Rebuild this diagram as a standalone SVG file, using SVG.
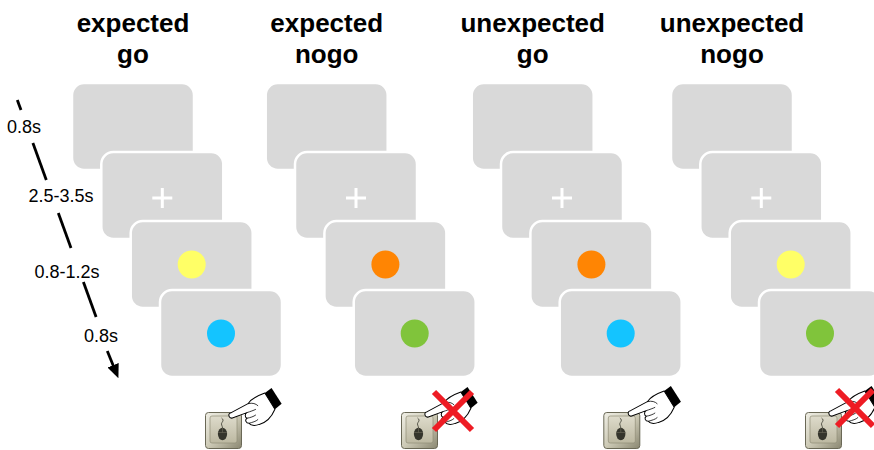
<svg xmlns="http://www.w3.org/2000/svg" xmlns:xlink="http://www.w3.org/1999/xlink" width="874" height="450" viewBox="0 0 874 450">
  <style>
    .title { font-family: "Liberation Sans", Arial, sans-serif; font-weight: bold; font-size: 26px; fill: #000; text-anchor: middle; }
    .time { font-family: "Liberation Sans", Arial, sans-serif; font-size: 18px; fill: #000; text-anchor: middle; }
    .scr { fill: #d9d9d9; stroke: #ffffff; stroke-width: 2.5; }
    .fix { stroke: #ffffff; stroke-width: 3; fill: none; }
    .yellow { fill: #ffff66; }
    .orange { fill: #ff8503; }
    .blue { fill: #14c4ff; }
    .green { fill: #80c43b; }
    .tl { stroke: #000; stroke-width: 2.8; fill: none; }
    .nox { stroke: #ee1c24; stroke-width: 6; fill: none; }
  </style>
  <defs>
    <marker id="arrow" markerUnits="userSpaceOnUse" markerWidth="14" markerHeight="12" viewBox="0 0 14 12" refX="1" refY="6" orient="auto">
      <path d="M0,0 L14,6 L0,12 Z" fill="#000"/>
    </marker>
    <linearGradient id="capOuter" x1="0" y1="0" x2="1" y2="1">
      <stop offset="0" stop-color="#f0efe6"/>
      <stop offset="0.5" stop-color="#cdcab6"/>
      <stop offset="1" stop-color="#8a8771"/>
    </linearGradient>
    <linearGradient id="capFace" x1="0" y1="0" x2="0" y2="1">
      <stop offset="0" stop-color="#dedbcb"/>
      <stop offset="1" stop-color="#bcb8a1"/>
    </linearGradient>
    <!-- key cap with a mouse glyph, top-left at 0,0 -->
    <g id="mouseKey">
      <rect x="0.5" y="0.5" width="36" height="36" rx="3" fill="url(#capOuter)" stroke="#6a6856" stroke-width="1"/>
      <rect x="5" y="4" width="27" height="27" rx="2" fill="url(#capFace)" stroke="#8f8c77" stroke-width="0.7"/>
      <path d="M17.5,16 C17.5,13.5 15.5,12.5 17,10.5 S18.5,7.5 16.5,6" stroke="#3a3a30" stroke-width="0.8" fill="none"/>
      <ellipse cx="17.5" cy="22" rx="4.6" ry="6.2" fill="#35352c"/>
      <path d="M13,20.5 H22 M17.5,16 V20.5" stroke="#6e6c5c" stroke-width="0.6"/>
    </g>
    <!-- pointing hand, fingertip at 0,0 -->
    <g id="hand">
      <path d="M0,0 C-0.5,-1.5 0.5,-2.8 2,-3 L17,-11 C19,-14 25,-18 32,-20.5 L41,-6 C38,1 33,6 27,7.5 C23,9 19,8.5 18,6.5 C15,6.5 14,3.5 16,2 C14,1 14,-2 16,-3 L3,1.8 C1.5,2.2 0.3,1.2 0,0 Z" fill="#ffffff" stroke="#000" stroke-width="0.9" stroke-linejoin="round"/>
      <path d="M17,-11 C21,-12 24,-11 26,-9 M18,6.5 C21,5.5 24,5 26,3 M16,2 C19,1.5 22,0.5 24,-1 M16,-3 C19,-4 22,-5 24,-6" stroke="#000" stroke-width="0.7" fill="none"/>
      <path d="M32,-20.5 L38,-25 L47,-11 L41,-6 Z" fill="#000"/>
    </g>
  </defs>

  <rect x="0" y="0" width="874" height="450" fill="#ffffff"/>

  <!-- time axis -->
  <g id="connectors">
    <path class="tl" d="M17.3,100 L21,110"/>
    <path class="tl" d="M32.9,143 L46.3,180"/>
    <path class="tl" d="M58.3,213 L71,248"/>
    <path class="tl" d="M83.4,282 L96.1,317"/>
    <path class="tl" d="M107.3,351 L113.5,366.2" marker-end="url(#arrow)"/>
  </g>
  <g id="durations">
    <text class="time" x="24" y="133">0.8s</text>
    <text class="time" x="61" y="202">2.5-3.5s</text>
    <text class="time" x="67" y="278">0.8-1.2s</text>
    <text class="time" x="101" y="342">0.8s</text>
  </g>

  <!-- condition 1 -->
  <g id="expected-go" transform="translate(72,0)">
    <text class="title" x="61" y="32">expected</text>
    <text class="title" x="61" y="63">go</text>
    <rect class="scr" x="0" y="83" width="122" height="87" rx="12"/>
    <rect class="scr" x="29.3" y="152" width="122" height="87" rx="12"/>
    <path class="fix" d="M80.3,198 H100.3 M90.3,188 V208"/>
    <rect class="scr" x="58.7" y="221" width="122" height="87" rx="12"/>
    <circle class="yellow" cx="119.7" cy="264.5" r="14"/>
    <rect class="scr" x="88" y="290" width="122" height="87" rx="12"/>
    <circle class="blue" cx="149" cy="333.5" r="14"/>
    <use xlink:href="#mouseKey" x="133" y="412"/>
    <use xlink:href="#hand" transform="translate(157,416) scale(1.12)"/>
  </g>

  <!-- condition 2 -->
  <g id="expected-nogo" transform="translate(265.7,0)">
    <text class="title" x="61" y="32">expected</text>
    <text class="title" x="61" y="63">nogo</text>
    <rect class="scr" x="0" y="83" width="122" height="87" rx="12"/>
    <rect class="scr" x="29.3" y="152" width="122" height="87" rx="12"/>
    <path class="fix" d="M80.3,198 H100.3 M90.3,188 V208"/>
    <rect class="scr" x="58.7" y="221" width="122" height="87" rx="12"/>
    <circle class="orange" cx="119.7" cy="264.5" r="14"/>
    <rect class="scr" x="88" y="290" width="122" height="87" rx="12"/>
    <circle class="green" cx="149" cy="333.5" r="14"/>
    <use xlink:href="#mouseKey" x="135.3" y="412"/>
    <use xlink:href="#hand" transform="translate(159.3,415) scale(1.12)"/>
    <path class="nox" d="M168.3,392 L206.3,430 M206.3,392 L168.3,430"/>
  </g>

  <!-- condition 3 -->
  <g id="unexpected-go" transform="translate(471.7,0)">
    <text class="title" x="61" y="32">unexpected</text>
    <text class="title" x="61" y="63">go</text>
    <rect class="scr" x="0" y="83" width="122" height="87" rx="12"/>
    <rect class="scr" x="29.3" y="152" width="122" height="87" rx="12"/>
    <path class="fix" d="M80.3,198 H100.3 M90.3,188 V208"/>
    <rect class="scr" x="58.7" y="221" width="122" height="87" rx="12"/>
    <circle class="orange" cx="119.7" cy="264.5" r="14"/>
    <rect class="scr" x="88" y="290" width="122" height="87" rx="12"/>
    <circle class="blue" cx="149" cy="333.5" r="14"/>
    <use xlink:href="#mouseKey" x="131.6" y="412"/>
    <use xlink:href="#hand" transform="translate(156.6,414) scale(1.12)"/>
  </g>

  <!-- condition 4 -->
  <g id="unexpected-nogo" transform="translate(671,0)">
    <text class="title" x="61" y="32">unexpected</text>
    <text class="title" x="61" y="63">nogo</text>
    <rect class="scr" x="0" y="83" width="122" height="87" rx="12"/>
    <rect class="scr" x="29.3" y="152" width="122" height="87" rx="12"/>
    <path class="fix" d="M80.3,198 H100.3 M90.3,188 V208"/>
    <rect class="scr" x="58.7" y="221" width="122" height="87" rx="12"/>
    <circle class="yellow" cx="119.7" cy="264.5" r="14"/>
    <rect class="scr" x="88" y="290" width="122" height="87" rx="12"/>
    <circle class="green" cx="149" cy="333.5" r="14"/>
    <use xlink:href="#mouseKey" x="134" y="412"/>
    <use xlink:href="#hand" transform="translate(158,414) scale(1.12)"/>
    <path class="nox" d="M166,390 L202,426 M202,390 L166,426"/>
  </g>
</svg>
